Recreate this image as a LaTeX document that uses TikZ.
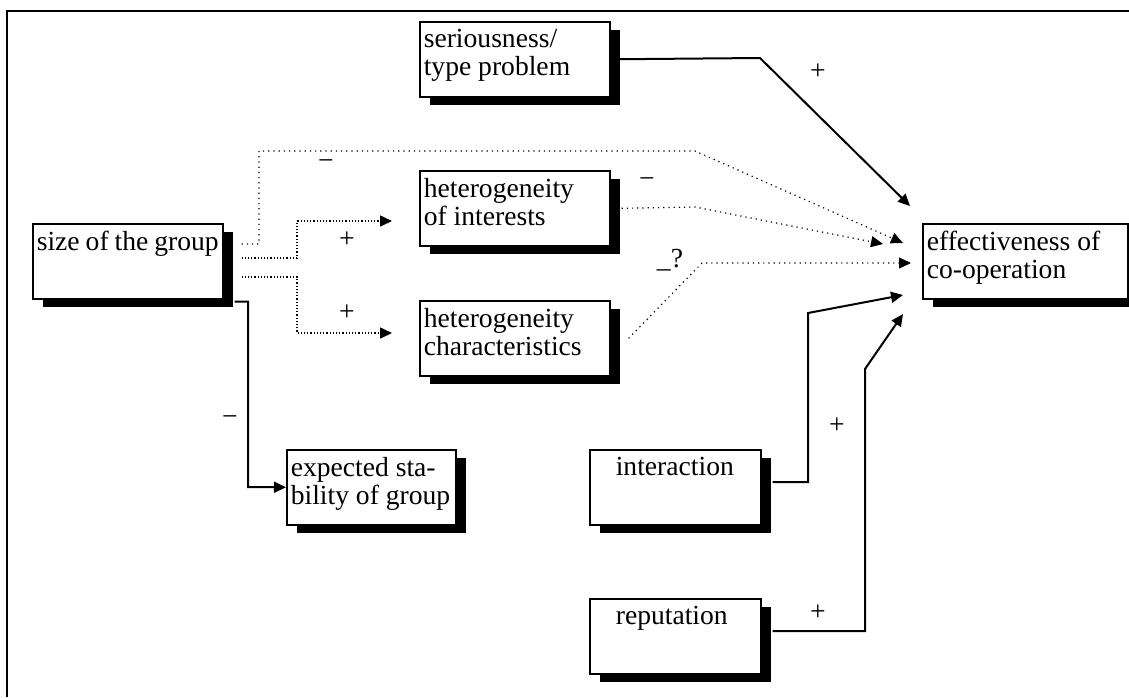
\documentclass[tikz,border=0pt]{standalone}
\usepackage{fontspec}
\setmainfont{Liberation Serif}
\usetikzlibrary{arrows.meta,shadows,calc}

\newcommand{\factortext}[2]{\parbox[t][30pt][t]{#1}{#2}}

\begin{document}
\begin{tikzpicture}[
    x=0.5pt,
    y=-0.5pt,
    font=\fontsize{13.8}{14}\selectfont,
    factor/.style={
        draw,
        fill=white,
        line width=0.8pt,
        anchor=north west,
        inner xsep=2pt,
        inner ysep=3.75pt,
        drop shadow={shadow xshift=5pt, shadow yshift=-4pt, fill=black, opacity=1},
    },
    solidarrow/.style={
        line width=1pt,
        -{Triangle[length=6pt,width=5.5pt]},
    },
    dotarrow/.style={
        dotted,
        line width=0.6pt,
        -{Triangle[length=6pt,width=5.5pt]},
    },
    sign/.style={inner sep=0pt},
]

    \useasboundingbox (0,0) rectangle (1129,697);
    \draw[line width=1pt] (1129,11) -- (7,11) -- (7,697);

    \node[factor] (size)    at (32,223)  {\factortext{91pt}{size of the group}};
    \node[factor] (serious) at (419,21)  {\factortext{91pt}{seriousness/\\type problem}};
    \node[factor] (hetint)  at (419,170) {\factortext{91pt}{heterogeneity\\of interests}};
    \node[factor] (hetchar) at (419,300) {\factortext{91pt}{heterogeneity\\characteristics}};
    \node[factor] (stab)    at (286,449) {\factortext{80.5pt}{expected sta-\\bility of group}};
    \node[factor] (eff)     at (922,223) {\factortext{98.5pt}{effectiveness of\\co-operation}};
    \node[factor] (inter)   at (589,449) {\factortext{81.5pt}{\hspace*{11pt}interaction}};
    \node[factor] (rep)     at (589,598) {\factortext{81.5pt}{\hspace*{11pt}reputation}};

    \draw[dotarrow] ($(size.north east)+(18,21)$) -| (259,151) -- (695,151)
        -- ($(eff.north west)+(-19,20)$);
    \draw[dotarrow, densely dotted, line width=0.8pt] ($(size.north east)+(18,35)$)
        -| (297,221) -- ($(hetint.north west)+(-27,51)$);
    \draw[dotarrow, densely dotted, line width=0.8pt] ($(size.north east)+(18,54)$)
        -| (297,333) -- ($(hetchar.north west)+(-27,33)$);
    \draw[solidarrow] ($(size.south east)+(11,2)$) -| (248,487) -- (stab.west);

    \draw[solidarrow] (serious.east) -- (760,58) -- ($(eff.north west)+(-12,-17)$);
    \draw[dotarrow] ($(hetint.east)+(11,0)$) -- (695,207) -- ($(eff.north west)+(-39,21)$);
    \draw[dotarrow] ($(hetchar.east)+(18,0)$) -- (702,263) -- ($(eff.north west)+(-11,40)$);
    \draw[solidarrow] ($(inter.north east)+(11,33)$) -| (808,313)
        -- ($(eff.north west)+(-19,72)$);
    \draw[solidarrow] ($(rep.north east)+(11,33)$) -| (865,369)
        -- ($(eff.north west)+(-19,91)$);

    \node[sign] (s1) at (818,72)  {+};
    \node[sign] (s2) at (326,165) {−};
    \node[sign] (s3) at (347,240) {+};
    \node[sign] (s4) at (347,313) {+};
    \node[sign] (s5) at (230,421) {−};
    \node[sign] (s6) at (647,183) {−};
    \node[sign] (s7) at (670,260) {\_?};
    \node[sign] (s8) at (837,426) {+};
    \node[sign] (s9) at (818,613) {+};

\end{tikzpicture}
\end{document}
